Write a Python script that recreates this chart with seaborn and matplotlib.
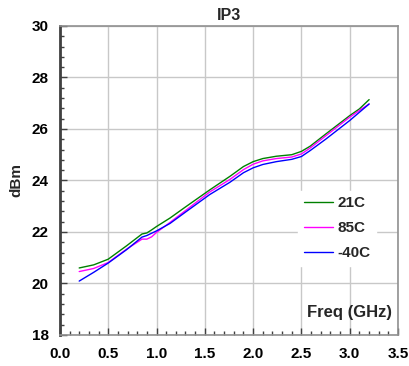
import matplotlib
matplotlib.use("Agg")
import matplotlib.pyplot as plt
import seaborn as sns
import pandas as pd
from matplotlib.ticker import MultipleLocator, FormatStrFormatter

freq = [0.2, 0.35, 0.5, 0.69, 0.85, 0.9, 0.95, 1.0, 1.14, 1.3, 1.55, 1.76, 1.9, 2.0, 2.1, 2.24, 2.4, 2.5, 2.59, 2.75, 3.0, 3.1, 3.2]
ip3_21c = [20.6, 20.72, 20.94, 21.46, 21.92, 21.96, 22.08, 22.21, 22.54, 22.97, 23.63, 24.16, 24.54, 24.73, 24.85, 24.94, 25.0, 25.13, 25.33, 25.8, 26.52, 26.78, 27.14]
ip3_85c = [20.46, 20.58, 20.81, 21.33, 21.72, 21.72, 21.81, 21.98, 22.37, 22.83, 23.55, 24.04, 24.42, 24.63, 24.76, 24.85, 24.91, 25.03, 25.26, 25.73, 26.46, 26.72, 26.97]
ip3_m40c = [20.09, 20.43, 20.79, 21.31, 21.8, 21.86, 21.95, 22.04, 22.33, 22.77, 23.45, 23.93, 24.3, 24.49, 24.62, 24.73, 24.82, 24.93, 25.16, 25.6, 26.33, 26.65, 26.97]
series_names = ["21C", "85C", "-40C"]
series_colors = ["#008000", "#ff00ff", "#0000ff"]
x_ticks = [0.0, 0.5, 1.0, 1.5, 2.0, 2.5, 3.0, 3.5]
y_ticks = [18, 20, 22, 24, 26, 28, 30]

df = pd.concat([
    pd.DataFrame({"Freq": freq, "IP3": v, "Temp": n})
    for v, n in zip([ip3_21c, ip3_85c, ip3_m40c], series_names)
])

sns.set_theme(style="white")
plt.rcParams['font.family'] = ['Liberation Sans', 'DejaVu Sans']
plt.rcParams['font.weight'] = 'bold'
plt.rcParams['axes.titleweight'] = 'bold'
plt.rcParams['axes.labelweight'] = 'bold'

fig = plt.figure(figsize=(4.1, 3.66), dpi=100)
ax = fig.add_axes([0.146, 0.085, 0.825, 0.844])

sns.lineplot(data=df, x="Freq", y="IP3", hue="Temp", palette=dict(zip(series_names, series_colors)),
             hue_order=series_names, linewidth=1.0, ax=ax, sort=False, estimator=None)

ax.set_xlim(0, 3.5)
ax.set_ylim(18, 30)
ax.set_xticks(x_ticks)
ax.set_yticks(y_ticks)
ax.xaxis.set_minor_locator(MultipleLocator(0.1))
ax.yaxis.set_minor_locator(MultipleLocator(0.4))
ax.xaxis.set_major_formatter(FormatStrFormatter("%.1f"))
ax.yaxis.set_major_formatter(FormatStrFormatter("%d"))
ax.grid(True, which="major", color="#c8c8c8", linewidth=1.0)
ax.set_axisbelow(True)
ax.tick_params(which="major", direction="in", length=5, width=1, colors="#404040",
               labelsize=11, labelcolor="black", bottom=True, left=True)
ax.tick_params(axis="x", which="major", pad=9)
ax.tick_params(axis="y", which="major", pad=8)
ax.tick_params(which="minor", direction="in", length=3, width=1, colors="#404040",
               bottom=True, left=True)
plt.setp(ax.get_xticklabels(), fontweight="bold")
plt.setp(ax.get_yticklabels(), fontweight="bold")

ax.spines["left"].set_color("#404040")
ax.spines["left"].set_linewidth(2)
for s in ["right", "bottom", "top"]:
    ax.spines[s].set_color("#909090")
    ax.spines[s].set_linewidth(1.2)

ax.set_xlabel("")
ax.set_ylabel("dBm", fontsize=11, fontweight="bold", labelpad=6)
ax.set_title("IP3", fontsize=11.5, fontweight="bold", pad=4)
ax.text(0.982, 0.074, "Freq (GHz)", transform=ax.transAxes, ha="right", va="center",
        fontsize=12, fontweight="bold")

leg = ax.legend(loc="center left", bbox_to_anchor=(0.682, 0.345), frameon=True,
                prop={"size": 11, "weight": "bold"},
                handlelength=1.9, handletextpad=0.33, labelspacing=0.72, borderpad=0.35)
leg.get_frame().set_edgecolor("white")
leg.get_frame().set_facecolor("white")
leg.get_frame().set_alpha(1)
leg.get_frame().set_boxstyle("square", pad=0)

fig.savefig("out.png", dpi=100)
